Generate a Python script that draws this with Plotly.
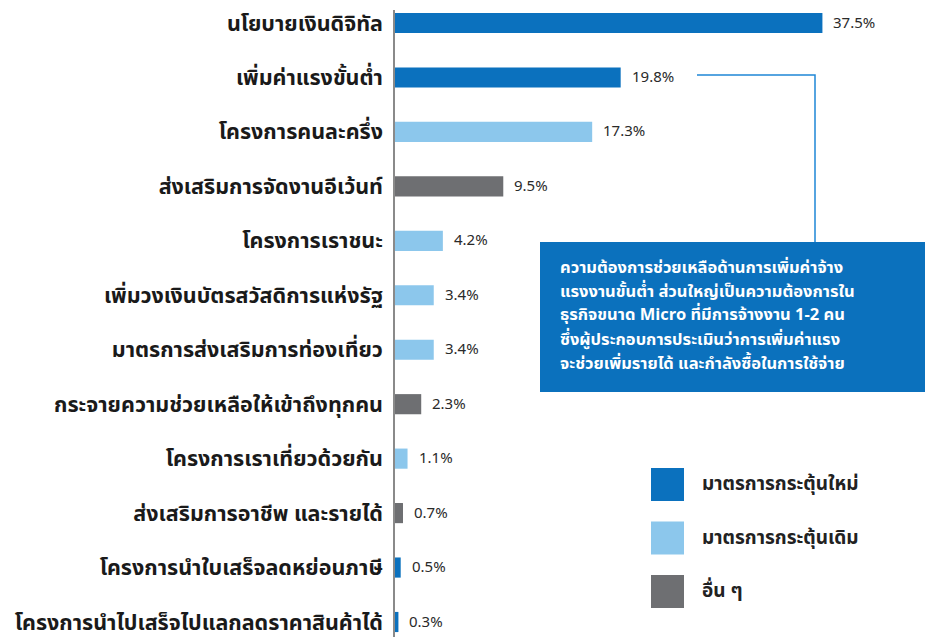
import plotly.graph_objects as go

# Survey results: share of respondents asking for each support measure (%)
categories = [
    "นโยบายเงินดิจิทัล",
    "เพิ่มค่าแรงขั้นต่ำ",
    "โครงการคนละครึ่ง",
    "ส่งเสริมการจัดงานอีเว้นท์",
    "โครงการเราชนะ",
    "เพิ่มวงเงินบัตรสวัสดิการแห่งรัฐ",
    "มาตรการส่งเสริมการท่องเที่ยว",
    "กระจายความช่วยเหลือให้เข้าถึงทุกคน",
    "โครงการเราเที่ยวด้วยกัน",
    "ส่งเสริมการอาชีพ และรายได้",
    "โครงการนำใบเสร็จลดหย่อนภาษี",
    "โครงการนำไปเสร็จไปแลกลดราคาสินค้าได้",
]
values = [37.5, 19.8, 17.3, 9.5, 4.2, 3.4, 3.4, 2.3, 1.1, 0.7, 0.5, 0.3]
groups = ["new", "new", "old", "other", "old", "old", "old", "other", "old", "other", "new", "new"]

group_names = {"new": "มาตรการกระตุ้นใหม่", "old": "มาตรการกระตุ้นเดิม", "other": "อื่น ๆ"}
group_colors = {"new": "#0B71BE", "old": "#8CC7EC", "other": "#6E6F72"}
legend_order = ["new", "old", "other"]

callout_lines = [
    "ความต้องการช่วยเหลือด้านการเพิ่มค่าจ้าง",
    "แรงงานขั้นต่ำ ส่วนใหญ่เป็นความต้องการใน",
    "ธุรกิจขนาด Micro ที่มีการจ้างงาน 1-2 คน",
    "ซึ่งผู้ประกอบการประเมินว่าการเพิ่มค่าแรง",
    "จะช่วยเพิ่มรายได้ และกำลังซื้อในการใช้จ่าย",
]

FONT = "Noto Sans Thai, Noto Sans Thai Looped, Noto Sans, DejaVu Sans, sans-serif"

W, H = 925, 637
ML, MT = 395, 10
PLOT_W, PLOT_H = W - ML, H - MT
X_MAX = 46.5


def px(xp):
    # page pixel -> paper x
    return (xp - ML) / PLOT_W


def py(yp):
    # page pixel -> paper y
    return (H - yp) / PLOT_H


fig = go.Figure()
fig.add_trace(go.Bar(
    x=values,
    y=categories,
    orientation="h",
    marker=dict(color=[group_colors[g] for g in groups], line=dict(width=0)),
    width=0.37,
    hoverinfo="x+y",
    showlegend=False,
))

# value labels to the right of each bar
for cat, v in zip(categories, values):
    fig.add_annotation(
        x=v, y=cat, xref="x", yref="y",
        text=f"{v:.1f}%", showarrow=False,
        xanchor="left", yanchor="middle", xshift=9,
        font=dict(family=FONT, size=15, color="#2a2a2a"),
    )

shapes = []

# connector from the minimum-wage bar to the callout box
shapes.append(dict(
    type="path", xref="paper", yref="paper",
    path=f"M {px(697)},{py(75)} L {px(815)},{py(75)} L {px(815)},{py(242)}",
    line=dict(color="#1F86D6", width=1.5),
))

# callout box and its note, one text per line
shapes.append(dict(
    type="rect", xref="paper", yref="paper",
    x0=px(540), x1=px(925), y0=py(392), y1=py(242),
    fillcolor="#0B71BD", line=dict(width=0), layer="above",
))
for i, line in enumerate(callout_lines):
    fig.add_annotation(
        x=px(559), y=py(267 + i * 24), xref="paper", yref="paper",
        text=line, showarrow=False, xanchor="left", yanchor="middle",
        borderpad=0,
        font=dict(family=FONT, size=16.5, color="white", weight="bold"),
    )

# legend swatches
for i, g in enumerate(legend_order):
    top = 468 + i * 53.5
    shapes.append(dict(
        type="rect", xref="paper", yref="paper",
        x0=px(651), x1=px(684), y0=py(top + 33), y1=py(top),
        fillcolor=group_colors[g], line=dict(width=0),
    ))
    fig.add_annotation(
        x=px(700), y=py(top + 16.5), xref="paper", yref="paper",
        text=group_names[g], showarrow=False, xanchor="left", yanchor="middle",
        font=dict(family=FONT, size=19, color="#222222", weight="bold"),
    )

ROW = 54.45
fig.update_layout(
    width=W, height=H,
    margin=dict(l=ML, r=0, t=MT, b=0, pad=0, autoexpand=False),
    paper_bgcolor="white", plot_bgcolor="white",
    shapes=shapes,
    bargap=0.63,
    xaxis=dict(range=[0, X_MAX], visible=False, fixedrange=True, automargin=False),
    yaxis=dict(
        type="category",
        categoryorder="array", categoryarray=categories,
        range=[11 + 15 / ROW, -13 / ROW],
        automargin=False,
        showline=True, linecolor="#8a8a8a", linewidth=1.5,
        showgrid=False, zeroline=False, ticks="",
        ticklabelstandoff=6,
        tickfont=dict(family=FONT, size=21.5, color="#1a1a1a", weight="bold"),
        fixedrange=True,
    ),
    font=dict(family=FONT),
)

fig.write_html("out.html")
